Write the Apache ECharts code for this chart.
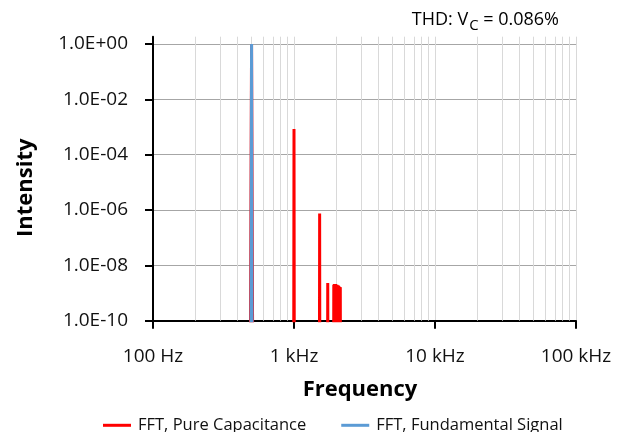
<!DOCTYPE html>
<html>
<head>
<meta charset="utf-8">
<script src="https://cdn.jsdelivr.net/npm/echarts@6/dist/echarts.min.js"></script>
<style>
html,body{margin:0;padding:0;background:#fff;}
#chart{width:625px;height:432px;}
</style>
</head>
<body>
<div id="chart"></div>
<script>
// ---- data ----
const xTickHz = [100, 1000, 10000, 100000];
const xTickLabels = ['100 Hz', '1 kHz', '10 kHz', '100 kHz'];
const xMinorGridHz = [200, 300, 400, 500, 600, 700, 800, 900,
                      2000, 3000, 4000, 5000, 6000, 7000, 8000, 9000,
                      20000, 30000, 40000, 50000, 60000, 70000, 80000, 90000];
const yTickValues = [1e-10, 1e-8, 1e-6, 1e-4, 1e-2, 1];
const yTickLabels = ['1.0E-10', '1.0E-08', '1.0E-06', '1.0E-04', '1.0E-02', '1.0E+00'];
const yTopValue = 1.82; // top edge of plot area (slightly above 1.0E+00)
const seriesNames = ['FFT, Pure Capacitance', 'FFT, Fundamental Signal'];
const thdText = 'THD: V';
const thdSub = 'C';
const thdValue = ' = 0.086%';

// FFT, Pure Capacitance (red); 1e-12 = noise floor below the visible range
const pureFreqHz = [490, 500, 510,
                    995, 1000, 1005,
                    1515, 1520, 1525,
                    1730, 1735, 1740,
                    1910, 1915, 1925, 1935, 1945, 1955, 1965, 1975, 1985, 1995, 2005, 2015,
                    2025, 2035, 2045, 2055, 2065, 2075, 2085, 2095, 2105, 2115, 2125, 2130, 2135];
const pureIntensity = [1e-12, 1.0, 1e-12,
                       1e-12, 8.5e-4, 1e-12,
                       1e-12, 7.5e-7, 1e-12,
                       1e-12, 2.3e-9, 1e-12,
                       1e-12, 2.0e-9, 1e-12, 2.1e-9, 1e-12, 2.1e-9, 1e-12, 2.1e-9, 1e-12, 2.0e-9, 1e-12, 2.0e-9,
                       1e-12, 1.9e-9, 1e-12, 1.9e-9, 1e-12, 1.8e-9, 1e-12, 1.7e-9, 1e-12, 1.65e-9, 1e-12, 1.6e-9, 1e-12];

// FFT, Fundamental Signal (blue)
const fundFreqHz = [495, 500, 505];
const fundIntensity = [1e-12, 1.0, 1e-12];

// ---- build ----
const L = Math.log10;
const toPts = (f, v) => f.map((x, i) => [L(x), L(v[i])]);
const yTickLog = yTickValues.map(L);
const FONT = 'Open Sans';

const chart = echarts.init(document.getElementById('chart'), null, {renderer: 'canvas'});
chart.setOption({
  animation: false,
  backgroundColor: '#fff',
  grid: {left: 153, right: 49, top: 36.7, bottom: 111.3, containLabel: false},
  xAxis: {
    type: 'value',
    min: L(xTickHz[0]), max: L(xTickHz[xTickHz.length - 1]), interval: 1,
    axisLine: {show: true, onZero: false, lineStyle: {color: '#000', width: 2}},
    axisTick: {show: true, length: 8, lineStyle: {color: '#000', width: 2}},
    axisLabel: {
      margin: 26, fontFamily: FONT, fontSize: 19, color: '#111',
      formatter: v => { const i = xTickHz.findIndex(h => Math.abs(L(h) - v) < 1e-6); return i >= 0 ? xTickLabels[i] : ''; }
    },
    splitLine: {show: true, lineStyle: {color: '#d9d9d9', width: 1}},
    name: 'Frequency', nameLocation: 'middle', nameGap: 57.7,
    nameTextStyle: {fontFamily: FONT, fontWeight: 'bold', fontSize: 22, color: '#000', padding: [0, 9, 0, 0]}
  },
  yAxis: {
    type: 'value',
    min: yTickLog[0], max: L(yTopValue), interval: 2,
    axisLine: {show: true, onZero: false, lineStyle: {color: '#000', width: 2}},
    axisTick: {show: true, length: 8, customValues: yTickLog, lineStyle: {color: '#000', width: 2}},
    axisLabel: {
      margin: 25, fontFamily: FONT, fontSize: 19, color: '#111', customValues: yTickLog,
      formatter: v => { const i = yTickLog.findIndex(t => Math.abs(t - v) < 1e-6); return i >= 0 ? yTickLabels[i] : ''; }
    },
    splitLine: {show: true, lineStyle: {color: '#a6a6a6', width: 1}},
    name: 'Intensity', nameLocation: 'middle', nameGap: 116, nameRotate: 90,
    nameTextStyle: {fontFamily: FONT, fontWeight: 'bold', fontSize: 22, color: '#000', padding: [0, 18, 0, 0]}
  },
  legend: {
    data: seriesNames.map(n => ({name: n, icon: 'rect'})),
    left: 103, top: 416.8, padding: 0, itemWidth: 28, itemHeight: 3, itemGap: 35,
    textStyle: {fontFamily: FONT, fontSize: 16.5, color: '#111', padding: [0, 0, 0, 2]}
  },
  graphic: [{
    type: 'text', x: 559, y: 10.6, silent: true,
    style: {
      text: '{a|' + thdText + '}{s|' + thdSub + '}{a|' + thdValue + '}',
      align: 'right', verticalAlign: 'top', fill: '#000',
      rich: {
        a: {fontFamily: FONT, fontSize: 18, lineHeight: 20, verticalAlign: 'top', fill: '#000'},
        s: {fontFamily: FONT, fontSize: 15, lineHeight: 15, padding: [7.5, 0, 0, 1], verticalAlign: 'top', fill: '#000'}
      }
    }
  }],
  series: [
    {
      type: 'line', name: '__grid', data: [], z: 1, silent: true,
      markLine: {
        silent: true, z: 1, symbol: ['none', 'none'], label: {show: false},
        lineStyle: {color: '#d9d9d9', width: 1, type: 'solid'},
        emphasis: {disabled: true},
        data: xMinorGridHz.map(h => ({xAxis: L(h)}))
      }
    },
    {
      type: 'line', name: seriesNames[0], data: toPts(pureFreqHz, pureIntensity),
      showSymbol: false, symbol: 'none', z: 3,
      lineStyle: {color: '#ff0000', width: 3}, itemStyle: {color: '#ff0000'},
      emphasis: {disabled: true}
    },
    {
      type: 'line', name: seriesNames[1], data: toPts(fundFreqHz, fundIntensity),
      showSymbol: false, symbol: 'none', z: 4,
      lineStyle: {color: '#5b9bd5', width: 3}, itemStyle: {color: '#5b9bd5'},
      emphasis: {disabled: true}
    }
  ]
});
</script>
</body>
</html>
